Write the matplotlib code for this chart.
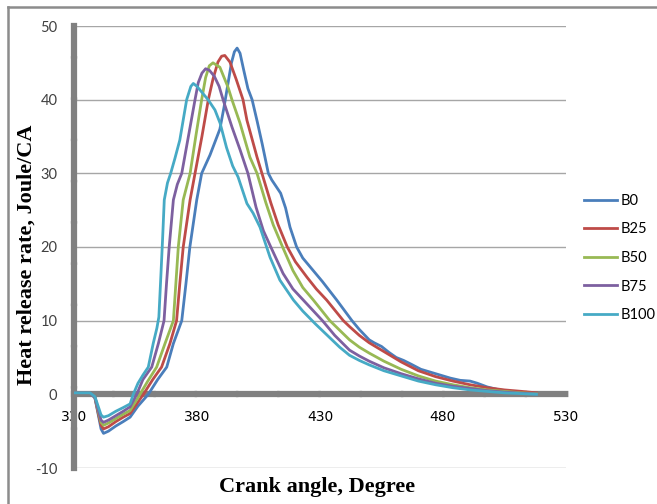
import matplotlib.pyplot as plt
from matplotlib.lines import Line2D

# Heat release rate vs crank angle for each blend
angle_b0 = [330, 336.5, 338.5, 340, 341, 342, 344, 347, 350, 352.8, 356, 360.2, 364, 367.7,
            370.4, 373.8, 375.5, 377.1, 379.9, 381.9, 385.3, 389.3, 391, 392.5, 394, 395.2,
            396.3, 397.5, 399, 400.7, 402.4, 404.5, 406.5, 409, 410.4, 412, 414, 416, 417.8,
            420.5, 423, 426, 431, 436.8, 443, 446, 450, 452, 455, 458, 461, 464, 467, 471,
            475, 479, 483, 487, 491, 494, 498, 503, 510, 518]
hrr_b0 = [0.2, 0.2, -0.5, -3.0, -4.7, -5.3, -5.0, -4.3, -3.7, -3.1, -1.6, 0, 2.0, 3.7,
          6.9, 10, 15, 20, 26.4, 30, 32.5, 36, 39, 42, 45, 46.5,
          47, 46.3, 44, 41.5, 40, 37, 34, 30, 29.1, 28.3, 27.3, 25.3, 22.7,
          20, 18.5, 17.3, 15.3, 12.8, 10, 8.8, 7.4, 7.0, 6.5, 5.7, 5.0, 4.6, 4.1, 3.4,
          3.0, 2.6, 2.2, 1.9, 1.8, 1.5, 1.0, 0.6, 0.3, 0.1]

angle_b25 = [330, 336.5, 338.5, 340, 341, 342, 344, 347, 350, 352.8, 358.2, 362, 365.6, 369,
             371.7, 373, 374.4, 377.2, 379.2, 382, 384.6, 386.5, 388.5, 390, 391.3, 393.4,
             396, 398.7, 400.3, 404.4, 406.4, 410, 413, 416.7, 420, 424.7, 428.5, 432.7,
             439.5, 442, 446, 450, 456, 463, 470, 477, 484, 491, 498, 505, 512, 518]
hrr_b25 = [0.2, 0.2, -0.4, -2.8, -4.2, -4.7, -4.4, -3.7, -3.1, -2.6, 0, 2.0, 3.7, 6.9,
           10, 15, 20, 26.4, 30, 35, 40, 42.8, 45.1, 45.9, 46, 45.1,
           42.7, 40, 37.2, 32.2, 30, 26, 23, 20, 18, 15.9, 14.3, 12.8,
           10, 9.2, 8.0, 7.0, 5.8, 4.4, 3.2, 2.4, 1.8, 1.3, 0.9, 0.6, 0.4, 0.2]

angle_b50 = [330, 336.5, 338.5, 340, 341, 342, 344, 347, 350, 352.8, 356.8, 360, 363.6, 367,
             370.4, 371.4, 372.4, 374.4, 377.2, 379.5, 381.9, 383.5, 385, 386.5, 389.3,
             392.6, 394.2, 397.5, 401.5, 404.4, 408, 411, 414.8, 419, 423, 427.3, 434,
             442, 446, 450, 456, 463, 470, 477, 484, 491, 498, 505, 512, 518]
hrr_b50 = [0.2, 0.2, -0.4, -2.5, -3.8, -4.2, -3.9, -3.3, -2.7, -2.2, 0, 1.8, 3.7, 6.9,
           10, 15, 20, 26.4, 30, 35, 40, 43, 44.6, 45, 44.4,
           41.7, 40, 36.8, 32.2, 30, 26, 23, 20, 16.8, 14.5, 12.8, 10,
           7.4, 6.4, 5.6, 4.5, 3.4, 2.5, 1.8, 1.3, 0.9, 0.6, 0.4, 0.2, 0.1]

angle_b75 = [330, 336.5, 338.5, 340, 341, 342, 344, 347, 350, 352.8, 355.5, 358, 361.6, 364.3,
             366.6, 367.6, 368.7, 370.4, 372, 373.8, 376.5, 379.2, 380.5, 382, 383.5, 385,
             387, 389, 390.6, 394.2, 397.5, 400.7, 404, 407, 410, 415, 419, 423.2, 431, 436,
             442, 446, 450, 456, 463, 470, 477, 484, 491, 498, 505, 512, 518]
hrr_b75 = [0.2, 0.2, -0.4, -2.3, -3.5, -3.8, -3.5, -2.9, -2.3, -1.7, 0, 2.0, 3.7, 6.9,
           10, 15, 20, 26.4, 28.5, 30, 35, 40, 42.3, 43.6, 44.2, 44.0,
           43.2, 41.8, 40, 36.3, 33.2, 30, 25.4, 22.2, 20, 16.4, 14.3, 12.8, 10, 8,
           6.0, 5.2, 4.5, 3.6, 2.8, 2.1, 1.5, 1.1, 0.8, 0.5, 0.3, 0.15, 0.05]

angle_b100 = [330, 336.5, 338.5, 340, 341, 342, 344, 347, 350, 352.8, 354.1, 356, 358, 360.2,
              362.2, 363.7, 364.5, 365.3, 366, 366.7, 368, 369.3, 371, 373, 375.8, 377.5,
              378.5, 380, 382, 384.5, 387.3, 389.4, 392, 394.5, 396.7, 400.3, 402.8, 405.6,
              408, 409.7, 413.7, 419.2, 423, 428, 433, 438, 442, 446, 450, 456, 463, 470,
              477, 484, 491, 498, 505, 512, 518]
hrr_b100 = [0.2, 0.2, -0.3, -1.8, -2.8, -3.1, -2.9, -2.3, -1.8, -1.3, 0, 1.5, 2.6, 3.7,
            6.9, 9.0, 10.5, 16, 21, 26.4, 28.7, 30, 32, 34.5, 40, 41.8,
            42.2, 41.8, 41, 40, 38.6, 36.8, 33.5, 31, 29.5, 25.9, 24.6, 22.7,
            20.3, 18.6, 15.5, 12.8, 11.3, 9.6, 8.0, 6.4, 5.3, 4.6, 4.0, 3.2, 2.5, 1.8,
            1.3, 0.9, 0.6, 0.4, 0.2, 0.1, 0.0]

series = [
    ("B0", angle_b0, hrr_b0, "#4a7ebb"),
    ("B25", angle_b25, hrr_b25, "#be4b48"),
    ("B50", angle_b50, hrr_b50, "#98b954"),
    ("B75", angle_b75, hrr_b75, "#7d60a0"),
    ("B100", angle_b100, hrr_b100, "#46aac5"),
]
x_ticks = [330, 380, 430, 480, 530]
y_ticks = [-10, 0, 10, 20, 30, 40, 50]

W, H = 657, 504
fig = plt.figure(figsize=(W / 100, H / 100), dpi=100)
ax = fig.add_axes([74 / W, 36 / H, 492 / W, 442 / H])

for name, xs, ys, col in series:
    ax.plot(xs, ys, color=col, lw=2, label=name, solid_joinstyle="round", zorder=3)

ax.set_xlim(330, 530)
ax.set_ylim(-10, 50)
ax.set_xticks(x_ticks)
ax.set_yticks(y_ticks)
ax.yaxis.grid(True, color="#a6a6a6", lw=1)
ax.set_axisbelow(True)

tick_font = dict(family="Lato", size=10.5, color="#404040")
ax.set_xticklabels([str(v) for v in x_ticks], **tick_font)
ax.set_yticklabels([str(v) for v in y_ticks], **tick_font)
ax.tick_params(length=0)
ax.tick_params(axis="y", pad=12)
ax.tick_params(axis="x", pad=11)

for side in ("top", "right"):
    ax.spines[side].set_visible(False)
ax.spines["bottom"].set_position(("data", 0))
for side in ("left", "bottom"):
    sp = ax.spines[side]
    sp.set_color("#808080")
    sp.set_linewidth(4.5)
    sp.set_linestyle((0, (6, 0.6)))
    sp.set_zorder(2)

ax.legend(loc="upper left", bbox_to_anchor=(578 / W, 1 - 188 / H),
          bbox_transform=fig.transFigure, frameon=False,
          prop=dict(family="Lato", size=10.5), handlelength=2.3,
          handletextpad=0.25, labelspacing=1.0, borderaxespad=0)

label_font = dict(family="Liberation Serif", weight="bold", size=16)
fig.text(27 / W, 1 - 255 / H, "Heat release rate, Joule/CA", rotation=90,
         ha="center", va="center", **label_font)
fig.text(317 / W, 1 - 487 / H, "Crank angle, Degree", ha="center", va="center",
         **label_font)

# outer frame of the chart area
fig.add_artist(Line2D([8 / W, 8 / W], [0, 1 - 7 / H], color="#8c8c8c", lw=1.8))
fig.add_artist(Line2D([8 / W, 1], [1 - 7 / H, 1 - 7 / H], color="#8c8c8c", lw=1.8))

fig.savefig("out.png", dpi=100)
